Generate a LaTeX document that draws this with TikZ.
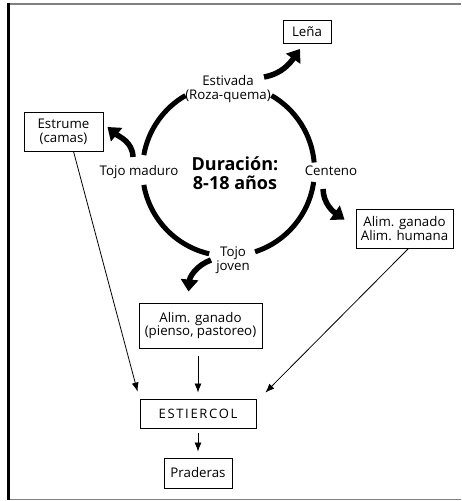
\documentclass[tikz,border=0pt]{standalone}
\usepackage{fontspec}
\setmainfont{Open Sans}
\usetikzlibrary{arrows.meta}

\tikzset{
  caja/.style={draw,line width=0.9pt,align=center,inner sep=0pt,
    font=\fontsize{13.3}{13.8}\selectfont},
  etiqueta/.style={align=center,inner sep=0pt,font=\fontsize{13.3}{13.8}\selectfont},
  ciclo/.style={line width=5pt},
  gruesa/.style={line width=5.5pt,-{Triangle[width=17pt,length=12pt]}},
  fina/.style={line width=0.8pt,-{Latex[length=9pt,width=7pt]}}
}

\begin{document}
\begin{tikzpicture}[x=1pt,y=1pt]
		\useasboundingbox (0,0) rectangle (461,501);
		% marco
		\draw[gray,line width=2pt] (8,497)--(461,497);
		\draw[gray,line width=1.5pt] (8,1.5)--(461,1.5);
		\draw[line width=3pt] (8.5,498)--(8.5,0.5);
		% ciclo
		\coordinate (c) at (228.5,331);
		\draw[ciclo] ([shift={(5:86pt)}]c) arc[start angle=5,end angle=60,radius=86pt];
		\draw[ciclo] ([shift={(120:86pt)}]c) arc[start angle=120,end angle=170,radius=86pt];
		\draw[ciclo] ([shift={(190:86pt)}]c) arc[start angle=190,end angle=257,radius=86pt];
		\draw[ciclo] ([shift={(288:86pt)}]c) arc[start angle=288,end angle=352,radius=86pt];
		\node[etiqueta] (estivada) at (228,412) {Estivada\\(Roza-quema)};
		\node[etiqueta] (maduro) at (139,329) {Tojo maduro};
		\node[etiqueta] (centeno) at (331,330) {Centeno};
		\node[etiqueta] (joven) at (233,241) {Tojo\\joven};
		\node[align=center,inner sep=0pt,font=\fontsize{18}{18.5}\selectfont\bfseries] (duracion) at (235,328) {Duración:\\8-18 años};
		% cajas
		\node[caja,minimum width=48,minimum height=23] (lena) at (307,469) {Leña};
		\node[caja,minimum width=79,minimum height=39] (estrume) at (63.5,369.5) {Estrume\\(camas)};
		\node[caja,minimum width=97,minimum height=39] (alimh) at (404.5,272.5) {Alim. ganado\\Alim. humana};
		\node[caja,minimum width=123,minimum height=45] (alimg) at (200.5,175.5) {Alim. ganado\\(pienso, pastoreo)};
		\node[caja,minimum width=116,minimum height=29,font=\fontsize{13}{13.5}\selectfont\addfontfeatures{LetterSpace=13}] (estiercol) at (198,87.5) {ESTIERCOL};
		\node[caja,minimum width=68,minimum height=30] (praderas) at (198,28) {Praderas};
		% salidas del ciclo
		\coordinate (sLena) at (264,424);
		\coordinate (sEstrume) at (133,344);
		\coordinate (sCenteno) at (323,312);
		\coordinate (sJoven) at (211,241);
		\draw[gruesa] (sLena) to[out=10,in=235] ([shift={(-7pt,-5pt)}]lena.south);
		\draw[gruesa] (sEstrume) to[out=92,in=-40] ([shift={(4pt,4.5pt)}]estrume.east);
		\draw[gruesa] (sCenteno) to[out=-88,in=145] ([shift={(-11pt,-11pt)}]alimh.north west);
		\draw[gruesa] (sJoven) to[out=200,in=85] ([shift={(-12pt,11pt)}]alimg.north);
		% flechas al estiercol
		\draw[fina] ([xshift=10pt]estrume.south) -- ([shift={(-2pt,7pt)}]estiercol.north west);
		\draw[fina] ([xshift=4pt]alimh.south) -- ([shift={(9pt,6pt)}]estiercol.north east);
		\draw[fina,shorten <=8pt,shorten >=6pt] (estiercol.north |- alimg.south) -- (estiercol.north);
		\draw[fina,shorten <=5pt,shorten >=6pt] (estiercol.south) -- (praderas.north);
		\end{tikzpicture}
\end{document}
